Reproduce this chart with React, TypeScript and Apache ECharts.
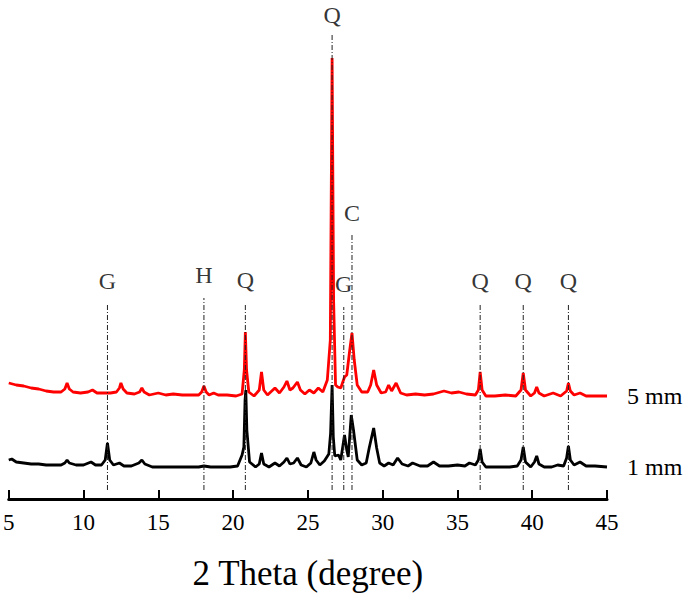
import React, { useEffect, useRef } from "react";
import * as echarts from "echarts";

// 2θ (degree) vs relative intensity (arbitrary units, offset patterns)
const pattern5mm: [number, number][] = [
  [5.0, 116], [5.5, 114], [6.0, 113], [6.5, 111], [7.0, 110], [7.5, 108], [8.0, 107], [8.5, 107],
  [8.75, 110], [8.9, 116], [9.05, 110], [9.3, 107], [9.8, 106], [10.3, 107], [10.6, 109], [10.9, 106],
  [11.4, 106], [11.8, 106], [12.2, 107], [12.4, 111], [12.5, 116], [12.65, 110], [12.9, 106], [13.4, 105],
  [13.75, 107], [13.9, 111], [14.05, 107], [14.4, 104], [15.0, 106], [15.5, 104], [16.0, 105], [16.6, 104],
  [17.2, 104], [17.7, 104], [17.9, 107], [18.05, 113], [18.2, 107], [18.4, 104], [18.7, 106], [19.0, 104],
  [19.6, 104], [20.2, 103], [20.6, 105], [20.75, 129], [20.82, 167], [20.9, 129], [21.05, 107], [21.4, 103],
  [21.75, 109], [21.9, 127], [22.05, 109], [22.3, 104], [22.8, 111], [23.1, 106], [23.4, 112], [23.6, 118],
  [23.8, 109], [24.0, 111], [24.3, 117], [24.5, 109], [24.8, 105], [25.1, 109], [25.4, 106], [25.7, 111],
  [26.0, 107], [26.3, 119], [26.5, 159], [26.62, 441], [26.72, 199], [26.85, 114], [27.0, 112], [27.2, 111],
  [27.45, 122], [27.6, 124], [27.8, 149], [27.95, 166], [28.1, 139], [28.3, 114], [28.6, 107], [29.0, 107],
  [29.2, 114], [29.4, 129], [29.6, 114], [29.9, 106], [30.2, 107], [30.4, 114], [30.6, 108], [30.9, 116],
  [31.2, 106], [31.6, 104], [32.2, 105], [32.8, 104], [33.4, 105], [34.1, 108], [34.6, 106], [35.1, 107],
  [35.6, 105], [36.2, 104], [36.4, 109], [36.52, 127], [36.65, 109], [36.9, 103], [37.5, 103], [38.2, 104],
  [38.9, 103], [39.25, 109], [39.4, 126], [39.55, 109], [39.9, 103], [40.15, 106], [40.3, 112], [40.45, 106],
  [40.8, 103], [41.4, 106], [41.9, 103], [42.3, 108], [42.42, 116], [42.55, 108], [42.8, 104], [43.2, 106],
  [43.6, 103], [44.2, 103], [45.0, 103],
];

const pattern1mm: [number, number][] = [
  [5.0, 39], [5.2, 40], [5.5, 37], [6.0, 36], [6.5, 35], [7.0, 35], [7.5, 34], [8.0, 34], [8.5, 34],
  [8.75, 36], [8.9, 39], [9.05, 36], [9.5, 34], [10.0, 34], [10.5, 37], [10.8, 34], [11.2, 34], [11.45, 39],
  [11.6, 56], [11.75, 39], [12.0, 34], [12.4, 36], [12.7, 33], [13.2, 33], [13.7, 36], [13.9, 39], [14.1, 35],
  [14.6, 32], [15.2, 32], [15.8, 32], [16.5, 32], [17.2, 32], [17.7, 32], [18.05, 33], [18.5, 32], [19.2, 32],
  [19.8, 32], [20.3, 33], [20.6, 44], [20.72, 52], [20.8, 99], [20.85, 109], [20.92, 69], [21.1, 37],
  [21.5, 32], [21.75, 35], [21.9, 46], [22.05, 35], [22.4, 32], [22.8, 36], [23.1, 33], [23.4, 37],
  [23.6, 41], [23.8, 35], [24.05, 36], [24.3, 41], [24.55, 34], [24.9, 32], [25.2, 36], [25.4, 47],
  [25.55, 39], [25.8, 34], [26.1, 38], [26.4, 45], [26.52, 66], [26.62, 114], [26.7, 62], [26.8, 43],
  [27.05, 44], [27.2, 39], [27.45, 64], [27.6, 49], [27.7, 42], [27.9, 84], [28.05, 69], [28.3, 39],
  [28.6, 34], [28.9, 36], [29.1, 51], [29.4, 71], [29.6, 51], [29.8, 36], [30.1, 33], [30.4, 36],
  [30.7, 34], [31.0, 41], [31.3, 35], [31.7, 33], [32.0, 36], [32.5, 33], [33.0, 33], [33.4, 37],
  [33.8, 33], [34.4, 33], [35.0, 34], [35.5, 33], [35.8, 36], [36.2, 34], [36.4, 39], [36.52, 50],
  [36.65, 37], [36.9, 32], [37.5, 32], [38.0, 32], [38.5, 32], [39.0, 33], [39.25, 39], [39.4, 52],
  [39.55, 37], [39.9, 32], [40.15, 37], [40.3, 43], [40.45, 35], [40.8, 32], [41.3, 32], [41.7, 34],
  [42.1, 33], [42.3, 41], [42.42, 53], [42.55, 39], [42.8, 34], [43.2, 37], [43.6, 33], [44.2, 33],
  [45.0, 32],
];

// Phase identification markers: G gypsum, H, Q quartz, C calcite
const markerNames = ["G", "H", "Q", "Q", "G", "C", "Q", "Q", "Q"];
const markerTheta = [11.6, 18.05, 20.82, 26.62, 27.4, 27.95, 36.52, 39.4, 42.42];
const markerLineTop = [195, 201, 194, 466, 192, 264, 194, 194, 194];
const markerLabelLevel = [218, 224, 219, 484, 215, 286, 218, 218, 218];
const markerLineBottom = 9;

const xTicks = [5, 10, 15, 20, 25, 30, 35, 40, 45];

export default function App() {
  const ref = useRef<HTMLDivElement>(null);
  useEffect(() => {
    if (!ref.current) return;
    const chart = echarts.init(ref.current, undefined, { renderer: "svg" });
    const font = "'Liberation Serif', 'Times New Roman', serif";

    const markerSeries = markerTheta.map((t, i) => ({
      type: "line" as const,
      data: [
        [t, markerLineBottom],
        [t, markerLineTop[i]],
      ],
      symbol: "none",
      silent: true,
      z: 5,
      lineStyle: { color: "#222", width: 1, type: [5, 2, 1, 2] as any },
    }));

    chart.setOption({
      animation: false,
      grid: { left: 7, right: 78, top: 9, bottom: 98, containLabel: false },
      xAxis: {
        type: "value",
        min: xTicks[0],
        max: xTicks[xTicks.length - 1],
        interval: 5,
        name: "2 Theta (degree)",
        nameLocation: "middle",
        nameGap: 57,
        nameTextStyle: { fontFamily: font, fontSize: 35, color: "#000" },
        axisLine: { show: true, lineStyle: { color: "#000", width: 3 } },
        axisTick: { show: true, inside: true, length: 9, lineStyle: { color: "#000", width: 2 } },
        axisLabel: { fontFamily: font, fontSize: 23, color: "#000", margin: 12 },
        splitLine: { show: false },
      },
      yAxis: {
        type: "value",
        min: 0,
        max: 490,
        show: false,
        splitLine: { show: false },
      },
      series: [
        {
          name: "5 mm",
          type: "line",
          data: pattern5mm,
          symbol: "none",
          z: 3,
          lineStyle: { color: "#ff0000", width: 2.8 },
          endLabel: {
            show: true,
            formatter: "5 mm",
            distance: 20,
            fontFamily: font,
            fontSize: 24,
            color: "#000",
          },
        },
        {
          name: "1 mm",
          type: "line",
          data: pattern1mm,
          symbol: "none",
          z: 3,
          lineStyle: { color: "#000", width: 2.8 },
          endLabel: {
            show: true,
            formatter: "1 mm",
            distance: 20,
            fontFamily: font,
            fontSize: 24,
            color: "#000",
          },
        },
        ...markerSeries,
        {
          type: "scatter",
          symbolSize: 1,
          itemStyle: { color: "rgba(0,0,0,0)" },
          silent: true,
          z: 6,
          data: markerTheta.map((t, i) => ({ value: [t, markerLabelLevel[i]], name: markerNames[i] })),
          label: {
            show: true,
            position: "inside",
            formatter: (p: any) => p.name,
            fontFamily: font,
            fontSize: 24,
            color: "#000",
            textBorderWidth: 0,
          },
        },
      ],
    });
    return () => chart.dispose();
  }, []);
  return <div ref={ref} style={{ width: 685, height: 597, position: "absolute", left: 0, top: 0 }} />;
}
